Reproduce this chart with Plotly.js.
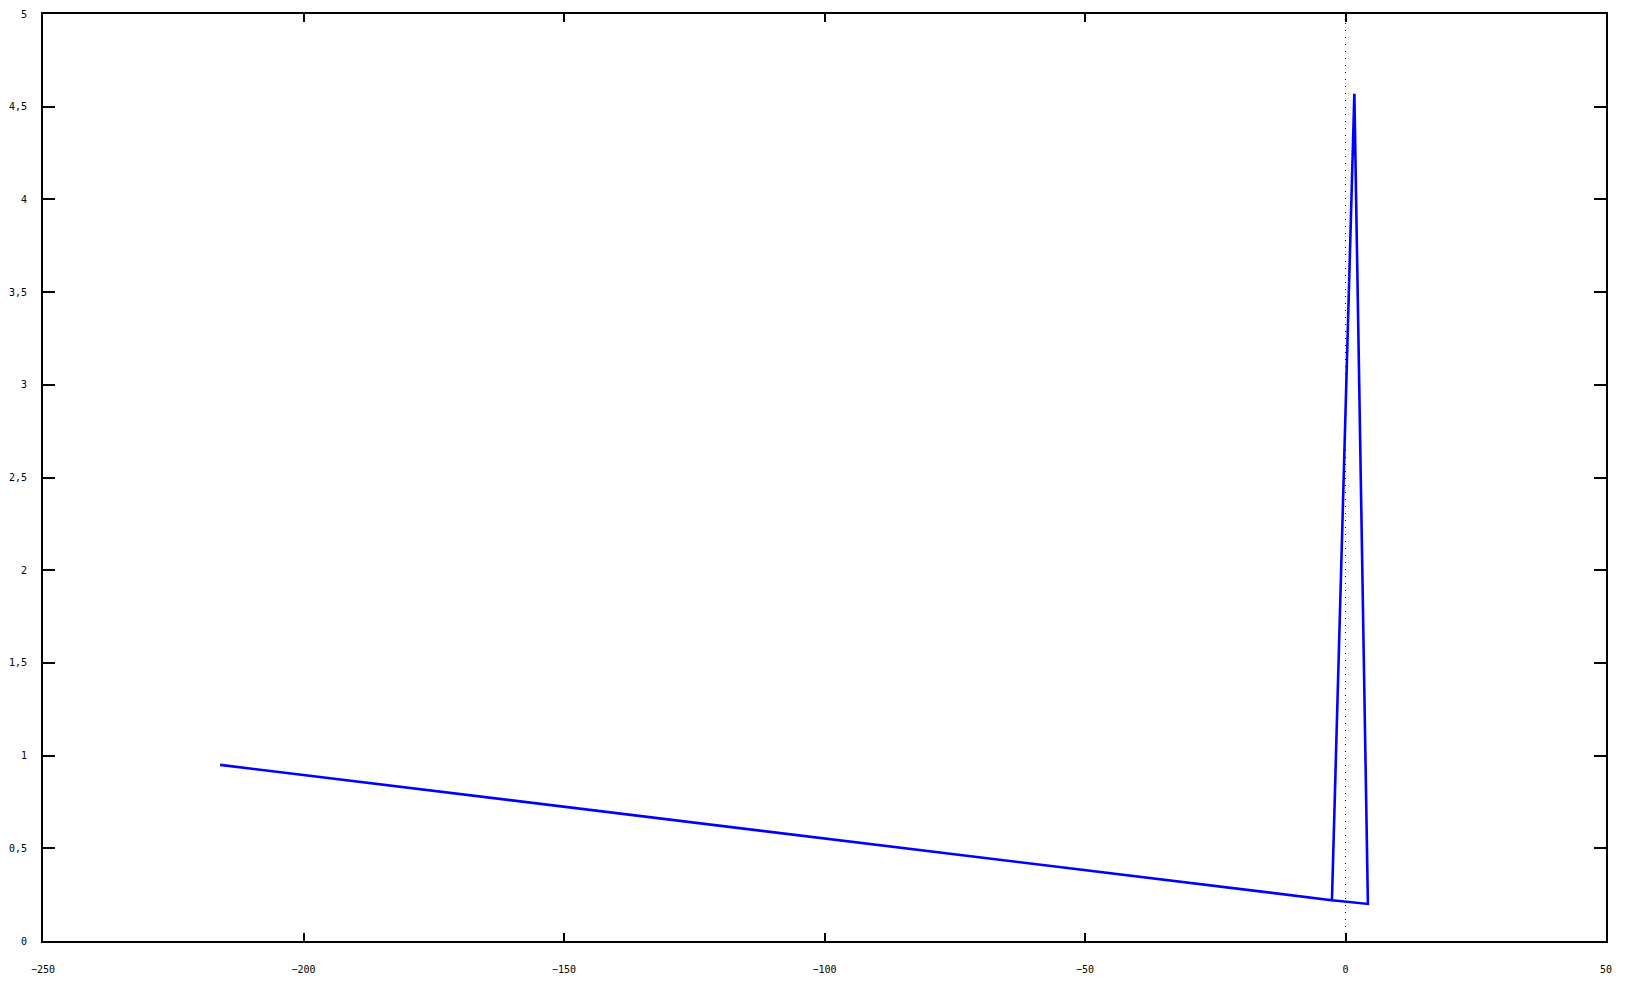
<!DOCTYPE html>
<html>
<head>
<meta charset="utf-8">
<script src="https://cdn.plot.ly/plotly-3.0.1.min.js"></script>
<style>
  html, body { margin: 0; padding: 0; background: #fff; }
  #plot { width: 1627px; height: 985px; }
</style>
</head>
<body>
<div id="plot"></div>
<script>
// values
let xs = [-216, -2.6, 1.7, 4.3, -2.6];
let ys = [0.95, 0.22, 4.57, 0.2, 0.22];

let xticks = [-250, -200, -150, -100, -50, 0, 50];
let yticks = [0, 0.5, 1, 1.5, 2, 2.5, 3, 3.5, 4, 4.5, 5];

let data = [{
    x: xs,
    y: ys,
    mode: 'lines',
    type: 'scatter',
    line: { color: '#0000ff', width: 2.6 },
    hoverinfo: 'none'
}];

let tickfont = { family: 'DejaVu Sans Mono, monospace', size: 10, color: '#000' };

let layout = {
    width: 1627,
    height: 985,
    showlegend: false,
    separators: ', ',
    paper_bgcolor: '#fff',
    plot_bgcolor: '#fff',
    margin: { l: 43, r: 21, t: 14, b: 44 },
    xaxis: {
        range: [-250, 50],
        tickvals: xticks,
        ticks: 'inside',
        ticklen: 8,
        tickwidth: 2,
        tickcolor: '#000',
        showline: true,
        linecolor: '#000',
        linewidth: 2,
        mirror: 'ticks',
        showgrid: false,
        zeroline: false,
        tickfont: tickfont,
        ticklabelstandoff: 18
    },
    yaxis: {
        range: [0, 5],
        tickvals: yticks,
        ticks: 'inside',
        ticklen: 12,
        tickwidth: 2,
        tickcolor: '#000',
        showline: true,
        linecolor: '#000',
        linewidth: 2,
        mirror: 'ticks',
        showgrid: false,
        zeroline: false,
        tickfont: tickfont,
        ticklabelstandoff: 12
    },
    shapes: [{
        type: 'line',
        xref: 'x', yref: 'y',
        x0: 0, x1: 0, y0: 0, y1: 5,
        line: { color: '#000', width: 1, dash: '1px,6px' },
        layer: 'below'
    }]
};

Plotly.newPlot('plot', data, layout, { displayModeBar: false, staticPlot: true });
</script>
</body>
</html>
